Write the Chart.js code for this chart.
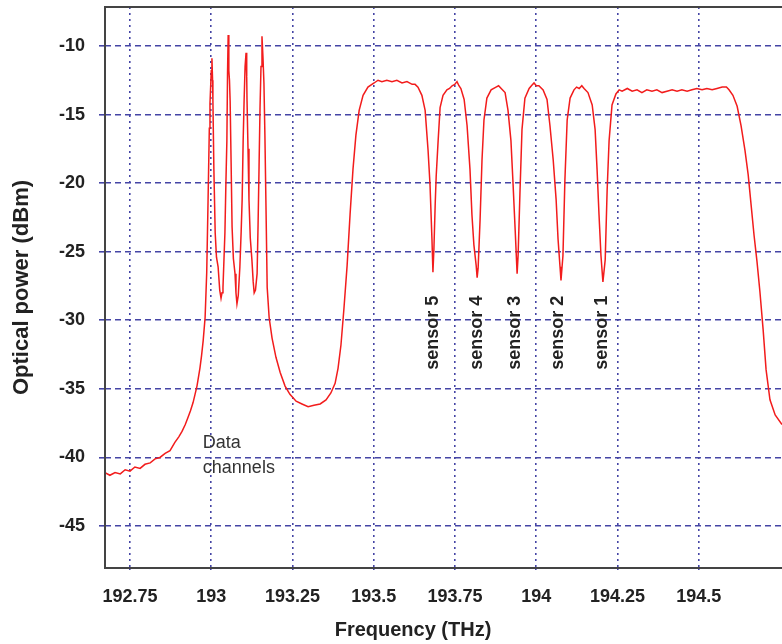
<!DOCTYPE html>
<html lang="en">
<head>
  <meta charset="UTF-8" />
  <title>Optical spectrum</title>
  <script src="https://cdn.jsdelivr.net/npm/chart.js"></script>
  <style>
    html, body { margin: 0; padding: 0; background: #fff; }
    #wrap { width: 782px; height: 644px; overflow: hidden; }
  </style>
</head>
<body>
<div id="wrap"><canvas id="spectrum" width="782" height="644"></canvas></div>

<script>
  // Frequency (THz) and optical power (dBm)
  const freq = [
    192.673, 192.688, 192.704, 192.720, 192.735, 192.750, 192.765, 192.781, 192.796, 192.812,
    192.827, 192.842, 192.858, 192.873, 192.888, 192.900, 192.910, 192.920, 192.928, 192.936,
    192.944, 192.950, 192.956, 192.965, 192.970, 192.975, 192.981, 192.986, 192.990, 192.994,
    192.996, 193.000, 193.002, 193.004, 193.005, 193.008, 193.012, 193.016, 193.021, 193.026,
    193.030, 193.033, 193.036, 193.039, 193.042, 193.045, 193.048, 193.050, 193.052, 193.054,
    193.056, 193.058, 193.061, 193.064, 193.068, 193.073, 193.076, 193.079, 193.083, 193.088,
    193.092, 193.095, 193.098, 193.101, 193.104, 193.107, 193.109, 193.110, 193.113, 193.116,
    193.120, 193.125, 193.129, 193.132, 193.136, 193.141, 193.144, 193.147, 193.150, 193.153,
    193.156, 193.159, 193.162, 193.165, 193.168, 193.172, 193.178, 193.187, 193.199, 193.212,
    193.227, 193.242, 193.261, 193.279, 193.298, 193.316, 193.335, 193.353, 193.368, 193.381,
    193.390, 193.399, 193.408, 193.418, 193.427, 193.436, 193.445, 193.455, 193.467, 193.482,
    193.501, 193.513, 193.525, 193.540, 193.556, 193.571, 193.587, 193.602, 193.618, 193.627,
    193.636, 193.648, 193.658, 193.667, 193.673, 193.679, 193.682, 193.685, 193.689, 193.692,
    193.698, 193.704, 193.713, 193.725, 193.733, 193.741, 193.749, 193.756, 193.762, 193.768,
    193.778, 193.787, 193.796, 193.802, 193.808, 193.815, 193.818, 193.821, 193.827, 193.833,
    193.839, 193.848, 193.861, 193.876, 193.884, 193.892, 193.904, 193.913, 193.922, 193.928,
    193.935, 193.941, 193.944, 193.950, 193.956, 193.965, 193.978, 193.985, 193.993, 194.000,
    194.008, 194.021, 194.033, 194.042, 194.052, 194.061, 194.067, 194.073, 194.076, 194.082,
    194.088, 194.095, 194.104, 194.116, 194.124, 194.132, 194.140, 194.147, 194.159, 194.172,
    194.181, 194.187, 194.193, 194.199, 194.205, 194.212, 194.218, 194.224, 194.233, 194.245,
    194.255, 194.264, 194.280, 194.295, 194.310, 194.325, 194.340, 194.356, 194.371, 194.387,
    194.402, 194.418, 194.433, 194.448, 194.464, 194.479, 194.494, 194.510, 194.525, 194.541,
    194.556, 194.572, 194.585, 194.593, 194.605, 194.618, 194.630, 194.642, 194.652, 194.661,
    194.670, 194.679, 194.688, 194.698, 194.707, 194.719, 194.735, 194.756
  ];
  const power = [
    -41.1, -41.3, -41.1, -41.2, -40.9, -41.0, -40.7, -40.8, -40.5, -40.4,
    -40.1, -40.0, -39.7, -39.5, -38.9, -38.5, -38.1, -37.6, -37.1, -36.6,
    -36.0, -35.4, -34.8, -33.5, -32.6, -31.5, -29.8, -26.5, -21.4, -16.0,
    -14.2, -11.8, -10.9, -12.5, -14.0, -19.0, -23.6, -25.4, -26.1, -27.8,
    -28.4, -28.0, -27.6, -25.6, -23.6, -20.0, -16.9, -12.0, -9.2, -11.8,
    -12.5, -14.0, -18.5, -23.2, -25.5, -26.6, -28.0, -28.8, -28.2, -26.1,
    -23.5, -21.2, -17.0, -14.0, -11.5, -10.5, -12.2, -14.0, -17.5, -21.2,
    -24.0, -25.6, -27.2, -28.0, -27.8, -26.6, -23.0, -18.8, -14.5, -11.5,
    -9.3, -10.8, -12.7, -16.5, -21.2, -27.6, -29.8, -31.3, -32.7, -33.8,
    -34.8, -35.4, -35.9, -36.1, -36.3, -36.2, -36.1, -35.8, -35.3, -34.6,
    -33.5, -31.8, -29.2, -26.0, -22.3, -19.0, -16.5, -14.7, -13.6, -13.0,
    -12.7, -12.5, -12.6, -12.5, -12.6, -12.5, -12.7, -12.6, -12.8, -12.8,
    -13.0, -13.6, -14.7, -17.6, -20.1, -24.1, -26.5, -24.8, -21.5, -19.5,
    -16.9, -14.5, -13.6, -13.2, -13.1, -12.9, -12.8, -12.6, -12.9, -13.1,
    -13.9, -15.8, -19.0, -22.3, -24.5, -26.0, -26.9, -26.2, -22.7, -18.3,
    -15.4, -13.8, -13.2, -13.0, -12.9, -13.1, -13.4, -14.7, -16.9, -19.8,
    -23.4, -26.6, -25.3, -20.5, -16.1, -13.8, -13.1, -12.9, -12.7, -12.9,
    -12.9, -13.2, -13.9, -15.8, -18.3, -21.2, -24.1, -26.1, -27.1, -25.3,
    -19.8, -15.4, -13.8, -13.2, -13.0, -13.1, -12.9, -13.1, -13.4, -14.3,
    -16.1, -19.0, -22.3, -25.3, -27.2, -25.6, -20.5, -16.9, -14.3, -13.5,
    -13.2, -13.3, -13.1, -13.3, -13.2, -13.4, -13.2, -13.3, -13.2, -13.4,
    -13.3, -13.2, -13.3, -13.2, -13.3, -13.2, -13.1, -13.2, -13.1, -13.2,
    -13.1, -13.0, -13.0, -13.2, -13.6, -14.4, -15.8, -17.6, -19.4, -21.6,
    -23.8, -25.7, -27.9, -30.7, -33.6, -35.8, -36.9, -37.6
  ];

  const xTicks = [192.75, 193, 193.25, 193.5, 193.75, 194, 194.25, 194.5];
  const yTicks = [-45, -40, -35, -30, -25, -20, -15, -10];

  const sensorNames = ["sensor 5", "sensor 4", "sensor 3", "sensor 2", "sensor 1"];
  const sensorFreq = [193.682, 193.818, 193.936, 194.068, 194.203];

  const gridColor = "#4545a5";
  Chart.defaults.font.family = "'Liberation Sans', Arial, sans-serif";
  Chart.defaults.color = "#222";

  // frame, x title and the text notes
  const extras = {
    id: "extras",
    afterDraw(chart) {
      const { ctx, chartArea: a, scales: { x, y } } = chart;
      ctx.save();
      ctx.strokeStyle = "#444";
      ctx.lineWidth = 2;
      ctx.beginPath();
      ctx.moveTo(a.right + 2, a.top);
      ctx.lineTo(a.left, a.top);
      ctx.lineTo(a.left, a.bottom);
      ctx.lineTo(a.right + 2, a.bottom);
      ctx.stroke();

      ctx.fillStyle = "#222";
      ctx.font = "bold 20px 'Liberation Sans', Arial, sans-serif";
      ctx.textAlign = "center";
      ctx.textBaseline = "middle";
      ctx.fillText("Frequency (THz)", 413, 630);

      ctx.fillStyle = "#333";
      ctx.font = "18px 'Liberation Sans', Arial, sans-serif";
      ctx.textAlign = "left";
      ctx.textBaseline = "alphabetic";
      const dx = x.getPixelForValue(192.974);
      ctx.fillText("Data", dx, y.getPixelForValue(-39.3));
      ctx.fillText("channels", dx, y.getPixelForValue(-41.1));

      ctx.fillStyle = "#222";
      ctx.font = "bold 18px 'Liberation Sans', Arial, sans-serif";
      ctx.textBaseline = "middle";
      sensorNames.forEach((name, i) => {
        ctx.save();
        ctx.translate(x.getPixelForValue(sensorFreq[i]), y.getPixelForValue(-33.6));
        ctx.rotate(-Math.PI / 2);
        ctx.fillText(name, 0, 0);
        ctx.restore();
      });
      ctx.restore();
    }
  };

  new Chart(document.getElementById("spectrum"), {
    type: "line",
    data: {
      datasets: [{
        data: freq.map((f, i) => ({ x: f, y: power[i] })),
        borderColor: "#f21c1c",
        borderWidth: 1.5,
        pointRadius: 0,
        tension: 0,
        fill: false
      }]
    },
    options: {
      responsive: false,
      animation: false,
      devicePixelRatio: 1,
      layout: { padding: { top: 7, right: 0, left: 0, bottom: 0 } },
      plugins: { legend: { display: false }, tooltip: { enabled: false } },
      scales: {
        x: {
          type: "linear",
          min: 192.673,
          max: 194.756,
          afterBuildTicks: s => { s.ticks = xTicks.map(v => ({ value: v })); },
          afterFit: s => { s.height = 76; s.paddingLeft = 0; s.paddingRight = 0; },
          border: { display: false, dash: [2, 4] },
          grid: {
            color: gridColor,
            lineWidth: 1.6,
            tickLength: 6,
            tickBorderDash: [2, 4]
          },
          ticks: {
            padding: 12,
            maxRotation: 0,
            font: { size: 18, weight: "bold" },
            callback: v => String(v)
          }
        },
        y: {
          min: -48.06,
          max: -7.16,
          afterBuildTicks: s => { s.ticks = yTicks.map(v => ({ value: v })); },
          afterFit: s => { s.width = 105; s.paddingTop = 0; s.paddingBottom = 0; },
          border: { display: false, dash: [6, 4] },
          grid: {
            color: gridColor,
            lineWidth: 1.6,
            tickLength: 6,
            tickBorderDash: [6, 4]
          },
          ticks: {
            padding: 14,
            font: { size: 18, weight: "bold" },
            callback: v => String(v)
          },
          title: {
            display: true,
            text: "Optical power (dBm)",
            font: { size: 22, weight: "bold" },
            padding: { top: 9, bottom: 0 }
          }
        }
      }
    },
    plugins: [extras]
  });
</script>
</body>
</html>
